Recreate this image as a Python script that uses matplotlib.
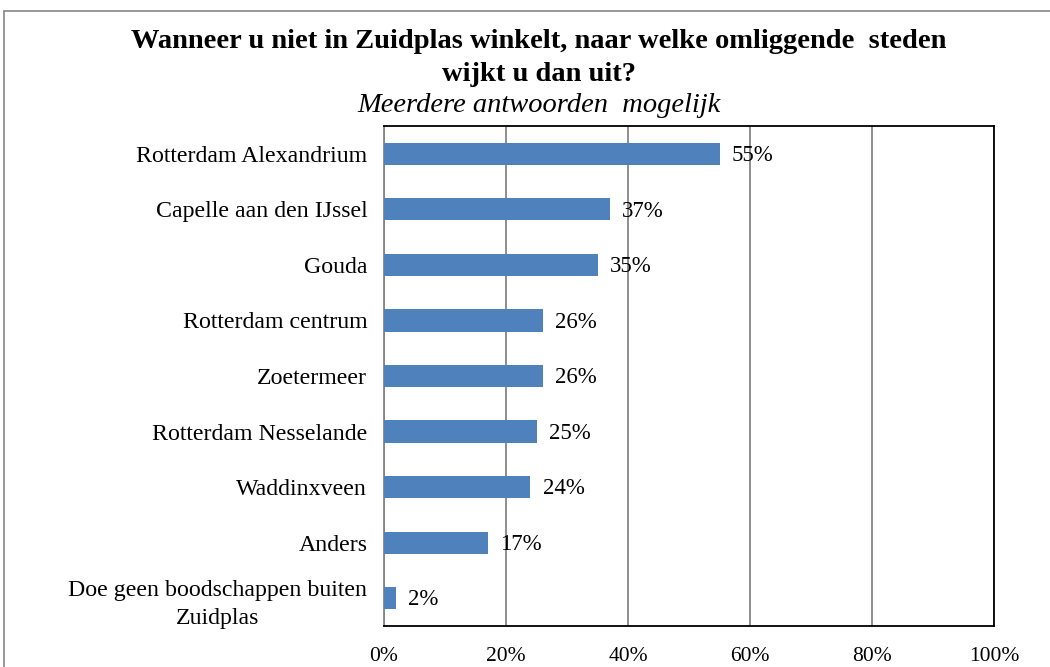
import matplotlib.pyplot as plt
import matplotlib.ticker as ticker
from matplotlib.patches import Rectangle

categories = [
    "Rotterdam Alexandrium",
    "Capelle aan den IJssel",
    "Gouda",
    "Rotterdam centrum",
    "Zoetermeer",
    "Rotterdam Nesselande",
    "Waddinxveen",
    "Anders",
    "Doe geen boodschappen buiten\nZuidplas",
]
values = [0.55, 0.37, 0.35, 0.26, 0.26, 0.25, 0.24, 0.17, 0.02]
value_labels = ["55%", "37%", "35%", "26%", "26%", "25%", "24%", "17%", "2%"]
x_ticks = [0, 0.2, 0.4, 0.6, 0.8, 1.0]

plt.rcParams['font.family'] = ['Liberation Serif', 'DejaVu Serif']

fig = plt.figure(figsize=(10.5, 6.67), dpi=100)
ax = fig.add_axes([384 / 1050, 1 - 626 / 667, 610 / 1050, 500 / 667])

# outer chart border
fig.patches.append(Rectangle((4 / 1050, -0.1), 1.2, 1 - 11 / 667 + 0.1,
                             transform=fig.transFigure, fill=False,
                             edgecolor="#868686", linewidth=1.2))

pos = list(range(len(categories)))
ax.barh(pos, values, height=0.4, color="#4F81BD", zorder=3)
for p, v, lab in zip(pos, values, value_labels):
    ax.text(v + 0.02, p + 0.03, lab, va="center", ha="left", fontsize=16.5, zorder=4)

ax.set_ylim(len(categories) - 0.5, -0.5)
ax.set_yticks(pos)
ax.set_yticklabels(categories, fontsize=17.2, ha="right")
for lab in ax.get_yticklabels():
    lab.set_multialignment("center")
    lab.set_linespacing(1.45)

ax.set_xlim(0, 1)
ax.set_xticks(x_ticks)
ax.xaxis.set_major_formatter(ticker.FuncFormatter(lambda v, _: f"{v * 100:.0f}%"))
ax.tick_params(axis="x", labelsize=15.5, length=0, pad=15)
ax.tick_params(axis="y", length=0, pad=12)
ax.grid(axis="x", color="#868686", linewidth=1.3, zorder=0)
for s in ax.spines.values():
    s.set_color("black")
    s.set_linewidth(1.3)
ax.spines["left"].set_color("#868686")

title_x = 539 / 1050
fig.text(title_x, 1 - 48 / 667, "Wanneer u niet in Zuidplas winkelt, naar welke omliggende  steden",
         ha="center", va="baseline", fontsize=20.5, fontweight="bold")
fig.text(title_x, 1 - 81 / 667, "wijkt u dan uit?",
         ha="center", va="baseline", fontsize=20.5, fontweight="bold")
fig.text(title_x, 1 - 112 / 667, "Meerdere antwoorden  mogelijk",
         ha="center", va="baseline", fontsize=20.5, fontstyle="italic")

fig.savefig("out.png", dpi=100)
